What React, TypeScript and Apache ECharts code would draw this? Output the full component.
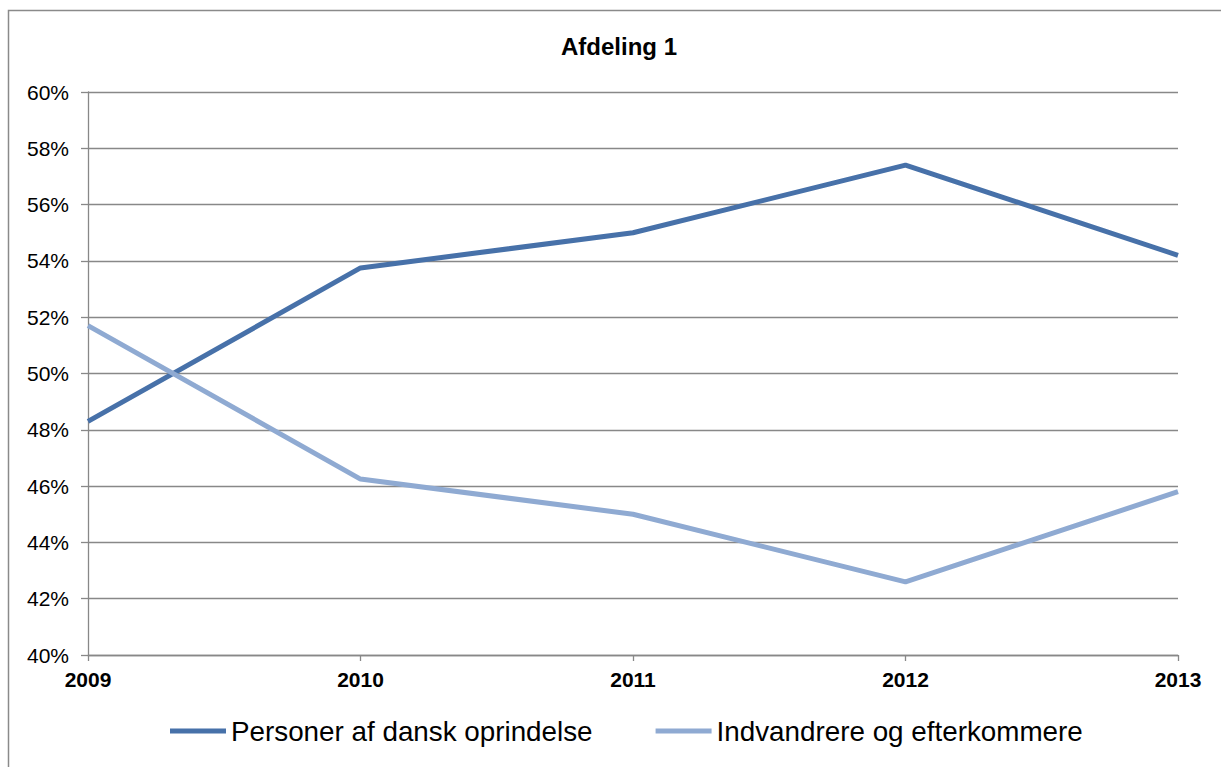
import React, { useEffect, useRef } from "react";
import * as echarts from "echarts";

const categories = ["2009", "2010", "2011", "2012", "2013"];
const danskValues = [48.3, 53.75, 55.0, 57.4, 54.2];
const indvandrerValues = [51.7, 46.25, 45.0, 42.6, 45.8];
const seriesNames = ["Personer af dansk oprindelse", "Indvandrere og efterkommere"];
const titleText = "Afdeling 1";

const FONT = "'Liberation Sans', Arial, sans-serif";
const GRID_COLOR = "#888888";

export default function App() {
  const ref = useRef<HTMLDivElement>(null);
  useEffect(() => {
    if (!ref.current) return;
    const chart = echarts.init(ref.current, undefined, { renderer: "svg" });
    chart.setOption({
      animation: false,
      backgroundColor: "#ffffff",
      textStyle: { fontFamily: FONT },
      graphic: [
        {
          type: "rect",
          shape: { x: 8.5, y: 10.5, width: 1400, height: 900 },
          style: { fill: "none", stroke: "#8a8a8a", lineWidth: 1.5 },
          silent: true,
        },
        {
          type: "text",
          x: 619,
          y: 46,
          style: {
            text: titleText,
            fontFamily: FONT,
            fontSize: 24,
            fontWeight: "bold",
            fill: "#000",
            textAlign: "center",
            textVerticalAlign: "middle",
          },
        },
      ],
      grid: { left: 88, right: 43, top: 92, bottom: 112, containLabel: false },
      legend: {
        left: 165,
        top: 712,
        itemWidth: 56,
        itemHeight: 5,
        itemGap: 63,
        icon: "rect",
        textStyle: { fontFamily: FONT, fontSize: 27.8, color: "#000" },
        data: seriesNames,
      },
      xAxis: {
        type: "category",
        data: categories,
        boundaryGap: false,
        axisLine: { show: true, lineStyle: { color: GRID_COLOR, width: 1.3 } },
        axisTick: { show: true, length: 6, lineStyle: { color: GRID_COLOR, width: 1.3 } },
        axisLabel: {
          fontFamily: FONT,
          fontSize: 21,
          fontWeight: "bold",
          color: "#000",
          margin: 14,
        },
        splitLine: { show: false },
      },
      yAxis: {
        type: "value",
        min: 40,
        max: 60,
        interval: 2,
        axisLine: { show: true, lineStyle: { color: GRID_COLOR, width: 1.3 } },
        axisTick: { show: true, length: 7, lineStyle: { color: GRID_COLOR, width: 1.3 } },
        axisLabel: {
          fontFamily: FONT,
          fontSize: 21,
          color: "#000",
          margin: 19,
          formatter: "{value}%",
        },
        splitLine: { show: true, lineStyle: { color: GRID_COLOR, width: 1.3 } },
      },
      series: [
        {
          name: seriesNames[0],
          type: "line",
          data: danskValues,
          symbol: "none",
          lineStyle: { color: "#4771A9", width: 5 },
          itemStyle: { color: "#4771A9" },
        },
        {
          name: seriesNames[1],
          type: "line",
          data: indvandrerValues,
          symbol: "none",
          lineStyle: { color: "#8FAAD2", width: 5 },
          itemStyle: { color: "#8FAAD2" },
        },
      ],
    });
    return () => chart.dispose();
  }, []);
  return (
    <div
      ref={ref}
      style={{ position: "absolute", left: 0, top: 0, width: 1221, height: 767 }}
    />
  );
}
